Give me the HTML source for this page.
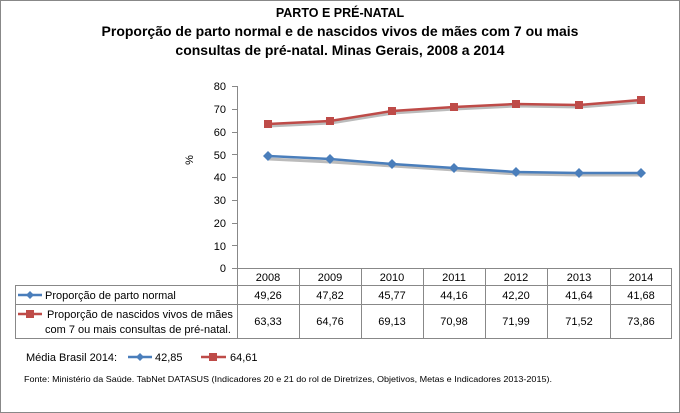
<!DOCTYPE html>
<html><head><style>
body{margin:0;background:#fff}
svg{display:block;font-family:"Liberation Sans",sans-serif}
</style></head><body>
<svg width="680" height="413" viewBox="0 0 680 413">
<rect x="0.5" y="0.5" width="679" height="412" fill="#fff" stroke="#888"/>
<text x="340" y="17" text-anchor="middle" font-size="12.5" font-weight="bold">PARTO E PRÉ-NATAL</text>
<text x="340" y="36" text-anchor="middle" font-size="14" font-weight="bold">Proporção de parto normal e de nascidos vivos de mães com 7 ou mais</text>
<text x="340" y="55" text-anchor="middle" font-size="14" font-weight="bold">consultas de pré-natal. Minas Gerais, 2008 a 2014</text>
<g font-size="11" text-anchor="end">
<text x="226" y="90">80</text><text x="226" y="113">70</text><text x="226" y="136">60</text>
<text x="226" y="159">50</text><text x="226" y="181">40</text><text x="226" y="204">30</text>
<text x="226" y="227">20</text><text x="226" y="250">10</text><text x="226" y="272">0</text>
</g>
<g stroke="#888">
<line x1="237.5" y1="86" x2="237.5" y2="338"/>
<line x1="232" y1="86.5" x2="237" y2="86.5"/><line x1="232" y1="109.5" x2="237" y2="109.5"/>
<line x1="232" y1="132.5" x2="237" y2="132.5"/><line x1="232" y1="154.5" x2="237" y2="154.5"/>
<line x1="232" y1="177.5" x2="237" y2="177.5"/><line x1="232" y1="200.5" x2="237" y2="200.5"/>
<line x1="232" y1="223.5" x2="237" y2="223.5"/><line x1="232" y1="245.5" x2="237" y2="245.5"/>
<line x1="232" y1="268.5" x2="672" y2="268.5"/>
<line x1="15" y1="285.5" x2="672" y2="285.5"/>
<line x1="15" y1="304.5" x2="672" y2="304.5"/>
<line x1="15" y1="338.5" x2="672" y2="338.5"/>
<line x1="15.5" y1="285" x2="15.5" y2="338"/>
<line x1="299.5" y1="268" x2="299.5" y2="338"/><line x1="361.5" y1="268" x2="361.5" y2="338"/>
<line x1="423.5" y1="268" x2="423.5" y2="338"/><line x1="485.5" y1="268" x2="485.5" y2="338"/>
<line x1="547.5" y1="268" x2="547.5" y2="338"/><line x1="610.5" y1="268" x2="610.5" y2="338"/>
<line x1="671.5" y1="268" x2="671.5" y2="338"/>
</g>
<text x="193" y="160" font-size="11" transform="rotate(-90 193 160)" text-anchor="middle">%</text>
<polyline points="268,157 330,160 392,164 454,168 516,172 579,173 641,173" fill="none" stroke="#bbb" stroke-width="3" transform="translate(1,2)"/>
<polyline points="268,124 330,121 392,111 454,107 516,104 579,105 641,100" fill="none" stroke="#bbb" stroke-width="3" transform="translate(1,2)"/>
<polyline points="268,156 330,159 392,164 454,168 516,172 579,173 641,173" fill="none" stroke="#4a7ebb" stroke-width="2.5"/>
<polyline points="268,124 330,121 392,111 454,107 516,104 579,105 641,100" fill="none" stroke="#be4b48" stroke-width="2.5"/>
<g fill="#4a7ebb">
<path d="M268 151l5 5-5 5-5-5z"/><path d="M330 154l5 5-5 5-5-5z"/><path d="M392 159l5 5-5 5-5-5z"/>
<path d="M454 163l5 5-5 5-5-5z"/><path d="M516 167l5 5-5 5-5-5z"/><path d="M579 168l5 5-5 5-5-5z"/><path d="M641 168l5 5-5 5-5-5z"/>
</g>
<g fill="#be4b48">
<rect x="264" y="120" width="8" height="8"/><rect x="326" y="117" width="8" height="8"/><rect x="388" y="107" width="8" height="8"/>
<rect x="450" y="103" width="8" height="8"/><rect x="512" y="100" width="8" height="8"/><rect x="575" y="101" width="8" height="8"/><rect x="637" y="96" width="8" height="8"/>
</g>
<g font-size="11" text-anchor="middle">
<text x="268" y="281">2008</text><text x="330" y="281">2009</text><text x="392" y="281">2010</text>
<text x="454" y="281">2011</text><text x="516" y="281">2012</text><text x="579" y="281">2013</text><text x="641" y="281">2014</text>
<text x="268" y="299">49,26</text><text x="330" y="299">47,82</text><text x="392" y="299">45,77</text>
<text x="454" y="299">44,16</text><text x="516" y="299">42,20</text><text x="579" y="299">41,64</text><text x="641" y="299">41,68</text>
<text x="268" y="325">63,33</text><text x="330" y="325">64,76</text><text x="392" y="325">69,13</text>
<text x="454" y="325">70,98</text><text x="516" y="325">71,99</text><text x="579" y="325">71,52</text><text x="641" y="325">73,86</text>
</g>
<line x1="18" y1="295" x2="42" y2="295" stroke="#4a7ebb" stroke-width="2.5"/><path d="M30 291l4 4-4 4-4-4z" fill="#4a7ebb"/>
<line x1="18" y1="314" x2="42" y2="314" stroke="#be4b48" stroke-width="2.5"/><rect x="26" y="310" width="8" height="8" fill="#be4b48"/>
<g font-size="11">
<text x="45" y="299">Proporção de parto normal</text>
<text x="47" y="318">Proporção de nascidos vivos de mães</text>
<text x="45" y="333">com 7 ou mais consultas de pré-natal.</text>
<text x="26" y="361">Média Brasil 2014:</text>
<text x="155" y="361">42,85</text>
<text x="230" y="361">64,61</text>
</g>
<line x1="128" y1="357" x2="152" y2="357" stroke="#4a7ebb" stroke-width="2.5"/><path d="M140 353l4 4-4 4-4-4z" fill="#4a7ebb"/>
<line x1="201" y1="357" x2="226" y2="357" stroke="#be4b48" stroke-width="2.5"/><rect x="209" y="353" width="8" height="8" fill="#be4b48"/>
<text x="24" y="382" font-size="8.6" textLength="528" lengthAdjust="spacingAndGlyphs">Fonte: Ministério da Saúde. TabNet DATASUS (Indicadores 20 e 21 do rol de Diretrizes, Objetivos, Metas e Indicadores 2013-2015).</text>
</svg>
</body></html>
